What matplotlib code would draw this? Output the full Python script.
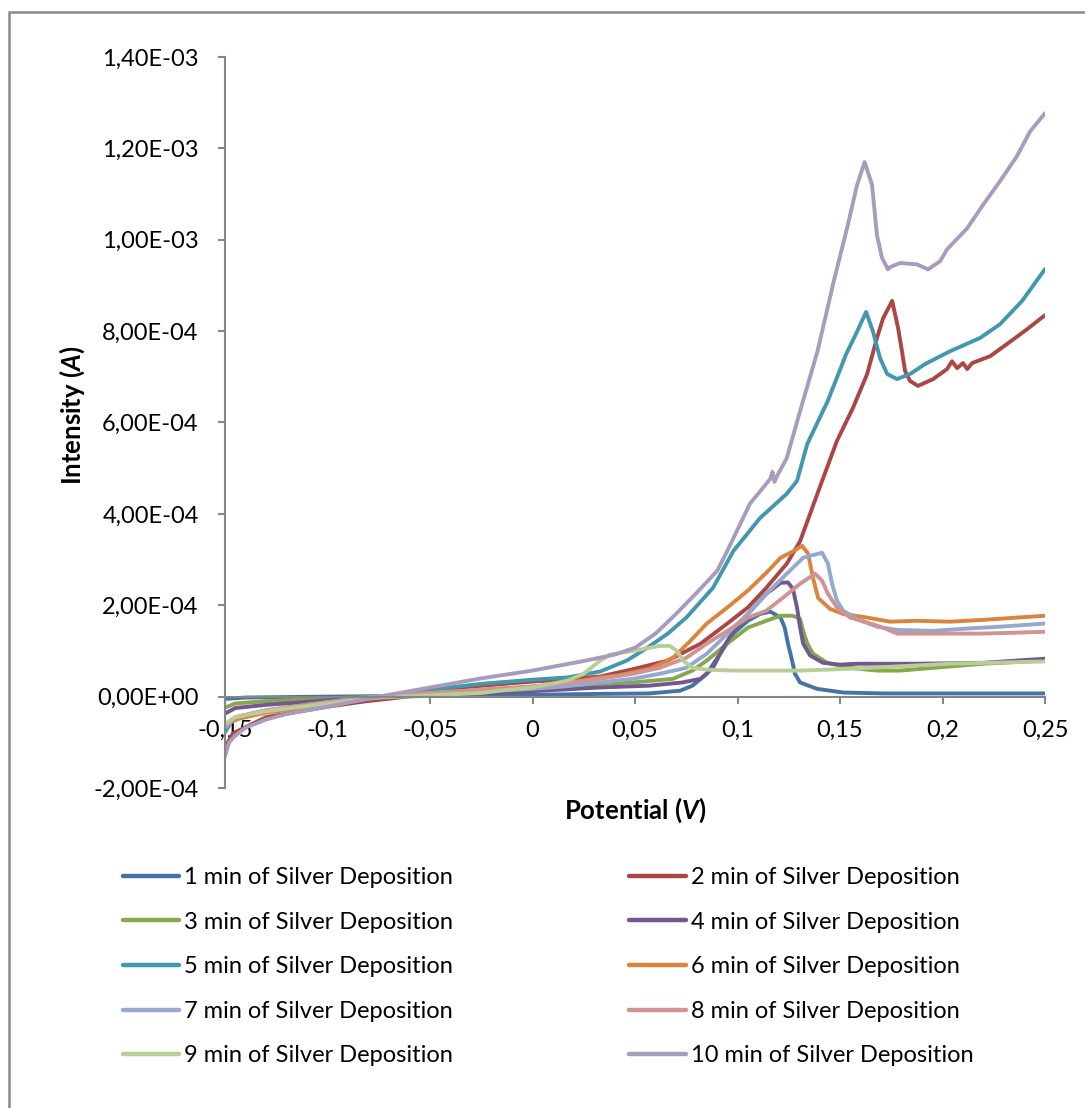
import matplotlib
matplotlib.use("Agg")
import matplotlib.pyplot as plt
from matplotlib.patches import Rectangle

plt.rcParams['font.family'] = ['Lato', 'DejaVu Sans']
plt.rcParams['mathtext.fontset'] = 'custom'
plt.rcParams['mathtext.it'] = 'Lato:italic:bold'
plt.rcParams['mathtext.rm'] = 'Lato:bold'

# current values are in units of 1e-4 A, potential in V
v_1min = [-0.15, -0.14, -0.1, -0.05, 0, 0.033, 0.057, 0.072, 0.078, 0.085, 0.0915, 0.098, 0.105, 0.111,
          0.116, 0.121, 0.123, 0.1246, 0.1266, 0.128, 0.1305, 0.1388, 0.1515, 0.171, 0.2037, 0.25]
i_1min = [-0.05, -0.02, 0.0, 0.02, 0.04, 0.06, 0.07, 0.13, 0.24, 0.5, 0.94, 1.38, 1.66, 1.81,
          1.86, 1.73, 1.51, 1.16, 0.79, 0.5, 0.31, 0.17, 0.09, 0.07, 0.07, 0.07]

v_2min = [-0.15, -0.146, -0.13, -0.1, -0.081, -0.065, -0.05, -0.03, 0, 0.017, 0.033, 0.049, 0.066, 0.082,
          0.095, 0.105, 0.114, 0.124, 0.1305, 0.140, 0.1485, 0.1563, 0.1632, 0.168, 0.171, 0.1754, 0.1783,
          0.1802, 0.1817, 0.1841, 0.188, 0.1954, 0.2022, 0.2046, 0.2071, 0.21, 0.212, 0.2144, 0.2232,
          0.2315, 0.2412, 0.25]
i_2min = [-1.1, -0.8, -0.45, -0.22, -0.1, -0.02, 0.1, 0.22, 0.33, 0.38, 0.44, 0.6, 0.79, 1.16,
          1.6, 1.95, 2.38, 2.91, 3.4, 4.57, 5.6, 6.32, 7.06, 7.85, 8.28, 8.66, 8.07,
          7.56, 7.13, 6.91, 6.8, 6.95, 7.17, 7.34, 7.19, 7.3, 7.17, 7.3, 7.45,
          7.72, 8.04, 8.35]

v_3min = [-0.15, -0.145, -0.13, -0.1, -0.075, -0.05, -0.025, 0, 0.017, 0.033, 0.049, 0.0685, 0.078,
          0.085, 0.095, 0.105, 0.114, 0.121, 0.127, 0.1305, 0.132, 0.134, 0.1368, 0.1437, 0.1549,
          0.168, 0.1793, 0.1954, 0.2198, 0.25]
i_3min = [-0.24, -0.15, -0.1, -0.04, 0.0, 0.04, 0.1, 0.15, 0.2, 0.28, 0.31, 0.39, 0.57,
          0.79, 1.16, 1.51, 1.66, 1.77, 1.77, 1.7, 1.44, 1.16, 0.94, 0.74, 0.63,
          0.57, 0.57, 0.63, 0.72, 0.79]

v_4min = [-0.15, -0.145, -0.13, -0.1, -0.075, -0.05, -0.025, 0, 0.017, 0.033, 0.057, 0.073, 0.082,
          0.088, 0.093, 0.098, 0.105, 0.114, 0.121, 0.1246, 0.127, 0.129, 0.1305, 0.132, 0.1354,
          0.1417, 0.15, 0.1583, 0.171, 0.1876, 0.2198, 0.25]
i_4min = [-0.37, -0.25, -0.18, -0.08, -0.02, 0.02, 0.07, 0.12, 0.16, 0.2, 0.24, 0.31, 0.39,
          0.63, 1.07, 1.44, 1.81, 2.25, 2.49, 2.5, 2.36, 1.95, 1.51, 1.16, 0.9,
          0.74, 0.7, 0.72, 0.72, 0.72, 0.74, 0.83]

v_5min = [-0.15, -0.147, -0.14, -0.13, -0.1, -0.075, -0.05, -0.025, 0, 0.017, 0.033, 0.046, 0.056,
          0.066, 0.075, 0.088, 0.098, 0.111, 0.124, 0.129, 0.134, 0.144, 0.153, 0.158, 0.1627,
          0.166, 0.1695, 0.173, 0.1778, 0.1841, 0.1915, 0.2037, 0.2183, 0.228, 0.2388, 0.25]
i_5min = [-0.78, -0.55, -0.42, -0.32, -0.13, 0.0, 0.15, 0.28, 0.37, 0.42, 0.55, 0.79, 1.07,
          1.38, 1.73, 2.38, 3.19, 3.91, 4.44, 4.72, 5.53, 6.47, 7.5, 7.96, 8.42,
          8.0, 7.41, 7.06, 6.95, 7.06, 7.28, 7.56, 7.85, 8.15, 8.66, 9.36]

v_6min = [-0.15, -0.145, -0.13, -0.1, -0.075, -0.05, -0.025, 0, 0.017, 0.033, 0.041, 0.057, 0.0685,
          0.077, 0.085, 0.095, 0.105, 0.114, 0.121, 0.127, 0.1315, 0.1344, 0.1368, 0.1393, 0.1451,
          0.1515, 0.1632, 0.1744, 0.1876, 0.2037, 0.2198, 0.2363, 0.25]
i_6min = [-0.65, -0.5, -0.35, -0.18, 0.0, 0.08, 0.15, 0.22, 0.3, 0.42, 0.46, 0.61, 0.85,
          1.22, 1.6, 1.95, 2.32, 2.71, 3.04, 3.18, 3.3, 3.13, 2.6, 2.16, 1.92,
          1.81, 1.73, 1.64, 1.66, 1.64, 1.68, 1.73, 1.77]

v_7min = [-0.15, -0.145, -0.13, -0.1, -0.075, -0.05, -0.025, 0, 0.017, 0.033, 0.049, 0.062, 0.075,
          0.085, 0.0915, 0.098, 0.105, 0.114, 0.124, 0.132, 0.1412, 0.1441, 0.1461, 0.1485, 0.1515,
          0.1583, 0.168, 0.1778, 0.1954, 0.212, 0.228, 0.25]
i_7min = [-0.68, -0.45, -0.3, -0.12, 0.0, 0.06, 0.12, 0.17, 0.23, 0.31, 0.39, 0.5, 0.63,
          0.94, 1.22, 1.51, 1.81, 2.25, 2.69, 3.04, 3.15, 2.91, 2.47, 2.1, 1.88,
          1.7, 1.53, 1.46, 1.44, 1.49, 1.53, 1.6]

v_8min = [-0.15, -0.145, -0.13, -0.1, -0.075, -0.05, -0.025, 0, 0.017, 0.033, 0.049, 0.062, 0.075,
          0.085, 0.095, 0.105, 0.114, 0.122, 0.1305, 0.1378, 0.1412, 0.1441, 0.1485, 0.1549, 0.1632,
          0.171, 0.1778, 0.1876, 0.2037, 0.2198, 0.2363, 0.25]
i_8min = [-0.62, -0.45, -0.3, -0.12, 0.0, 0.08, 0.15, 0.22, 0.3, 0.39, 0.5, 0.63, 0.85,
          1.16, 1.44, 1.73, 1.88, 2.16, 2.47, 2.69, 2.54, 2.25, 1.95, 1.73, 1.62,
          1.51, 1.38, 1.38, 1.38, 1.38, 1.4, 1.42]

v_9min = [-0.15, -0.145, -0.13, -0.1, -0.075, -0.05, -0.025, -0.016, 0, 0.017, 0.025, 0.033, 0.038,
          0.049, 0.062, 0.067, 0.0705, 0.0734, 0.078, 0.085, 0.098, 0.1305, 0.155, 0.204, 0.25]
i_9min = [-0.6, -0.45, -0.32, -0.15, -0.02, 0.03, 0.08, 0.13, 0.2, 0.35, 0.5, 0.79, 0.92,
          1.0, 1.11, 1.11, 1.0, 0.79, 0.63, 0.59, 0.57, 0.57, 0.61, 0.72, 0.77]

v_10min = [-0.15, -0.148, -0.145, -0.14, -0.13, -0.12, -0.1, -0.075, -0.05, -0.025, 0, 0.025, 0.04,
           0.05, 0.06, 0.07, 0.08, 0.09, 0.095, 0.106, 0.116, 0.117, 0.118, 0.1195, 0.124, 0.1305,
           0.139, 0.1466, 0.1534, 0.1583, 0.162, 0.1656, 0.168, 0.1705, 0.1734, 0.1744, 0.1793,
           0.1876, 0.1929, 0.1988, 0.2022, 0.212, 0.22, 0.228, 0.2363, 0.2427, 0.25]
i_10min = [-1.3, -1.0, -0.85, -0.68, -0.5, -0.38, -0.22, 0.0, 0.2, 0.4, 0.57, 0.78, 0.92,
           1.07, 1.38, 1.81, 2.27, 2.75, 3.19, 4.22, 4.77, 4.92, 4.7, 4.85, 5.22, 6.25,
           7.56, 9.03, 10.25, 11.2, 11.7, 11.2, 10.1, 9.6, 9.35, 9.4, 9.49,
           9.46, 9.35, 9.53, 9.79, 10.25, 10.78, 11.28, 11.83, 12.37, 12.77]

labels = [f"{m} min of Silver Deposition" for m in range(1, 11)]
potentials = [v_1min, v_2min, v_3min, v_4min, v_5min, v_6min, v_7min, v_8min, v_9min, v_10min]
currents = [i_1min, i_2min, i_3min, i_4min, i_5min, i_6min, i_7min, i_8min, i_9min, i_10min]
colors = ['#4572A7', '#AA4643', '#89A54E', '#71588F', '#4198AF',
          '#DB843D', '#93A9CF', '#D19392', '#B9CD96', '#A99BBD']

x_ticks = [-0.15, -0.1, -0.05, 0, 0.05, 0.1, 0.15, 0.2, 0.25]
x_tick_labels = ['-0,15', '-0,1', '-0,05', '0', '0,05', '0,1', '0,15', '0,2', '0,25']
y_ticks = [-2e-4, 0, 2e-4, 4e-4, 6e-4, 8e-4, 1e-3, 1.2e-3, 1.4e-3]
y_tick_labels = ['-2,00E-04', '0,00E+00', '2,00E-04', '4,00E-04', '6,00E-04',
                 '8,00E-04', '1,00E-03', '1,20E-03', '1,40E-03']

fig = plt.figure(figsize=(10.85, 11.08), dpi=100)
ax = fig.add_axes([0.2074, 0.2888, 0.7558, 0.6598])

lines = []
for v, cur, c, lab in zip(potentials, currents, colors, labels):
    ln, = ax.plot(v, [k * 1e-4 for k in cur], color=c, lw=2.8, label=lab,
                  solid_capstyle='round', solid_joinstyle='round')
    lines.append(ln)

axis_gray = '#868686'
ax.set_xlim(-0.15, 0.25)
ax.set_ylim(-2e-4, 1.4e-3)
ax.spines['top'].set_visible(False)
ax.spines['right'].set_visible(False)
ax.spines['bottom'].set_position(('data', 0))
for s in ('left', 'bottom'):
    ax.spines[s].set_color(axis_gray)
    ax.spines[s].set_linewidth(1.5)

ax.set_xticks(x_ticks)
ax.set_xticklabels(x_tick_labels)
ax.set_yticks(y_ticks)
ax.set_yticklabels(y_tick_labels)
ax.tick_params(axis='both', direction='out', length=5, width=1.5, color=axis_gray,
               labelsize=17, labelcolor='black')
ax.tick_params(axis='y', pad=14)
ax.tick_params(axis='x', pad=12)

ax.set_xlabel(r'Potential ($\mathit{V}$)', fontsize=18.5, fontweight='bold')
ax.set_ylabel(r'Intensity ($\mathit{A}$)', fontsize=18.5, fontweight='bold')
ax.xaxis.set_label_coords(0.5, -0.010)
ax.yaxis.set_label_coords(-0.168, 0.51)

# legend in two columns: odd minutes on the left, even minutes on the right
leg_kw = dict(loc='upper left', frameon=False, fontsize=17, handlelength=2.4,
              handletextpad=0.2, labelspacing=1.0, borderpad=0, borderaxespad=0)
leg1 = fig.legend(lines[0::2], labels[0::2], bbox_to_anchor=(0.113, 0.2175), **leg_kw)
leg2 = fig.legend(lines[1::2], labels[1::2], bbox_to_anchor=(0.580, 0.2175), **leg_kw)
for leg in (leg1, leg2):
    for h in leg.legend_handles:
        h.set_linewidth(3.2)

# chart frame
fig.patches.append(Rectangle((0.0083, -0.2), 1.5, 1.1892, transform=fig.transFigure,
                             fill=False, edgecolor='#8a8a8a', linewidth=1.8))

fig.savefig('out.png', dpi=100)
